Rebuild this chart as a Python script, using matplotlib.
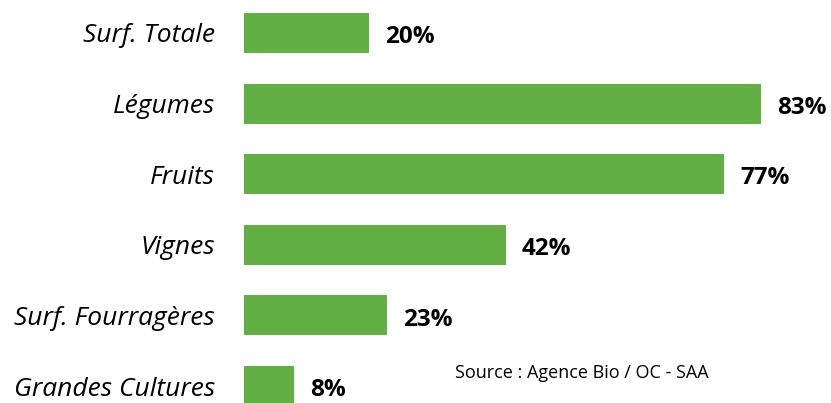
import matplotlib.pyplot as plt

# Données
categories = ['Surf. Totale', 'Légumes', 'Fruits', 'Vignes', 'Surf. Fourragères', 'Grandes Cultures']
valeurs = [20, 83, 77, 42, 23, 8]
etiquettes = ['20%', '83%', '77%', '42%', '23%', '8%']
source = 'Source : Agence Bio / OC - SAA'

plt.rcParams['font.family'] = ['Open Sans', 'DejaVu Sans']

fig = plt.figure(figsize=(8.31, 4.03), dpi=100)
ax = fig.add_axes([244 / 831, 0, 587 / 831, 1])

pos = list(range(len(categories)))
ax.barh(pos, valeurs, height=0.567, color='#62b044')

for p, v, t in zip(pos, valeurs, etiquettes):
    ax.text(v + 2.6, p + 0.06, t, va='center', ha='left', fontsize=17.5, fontweight='bold', color='black')

ax.set_xlim(0, 94.2)
ax.set_ylim(5.24, -0.467)
ax.set_yticks(pos)
ax.set_yticklabels(categories, fontsize=19, style='italic')
ax.tick_params(axis='y', length=0, pad=21)
ax.set_xticks([])
for s in ax.spines.values():
    s.set_visible(False)

fig.text(455 / 831, 1 - 373 / 403, source, fontsize=13, va='center', ha='left')

fig.savefig('out.png', dpi=100)
